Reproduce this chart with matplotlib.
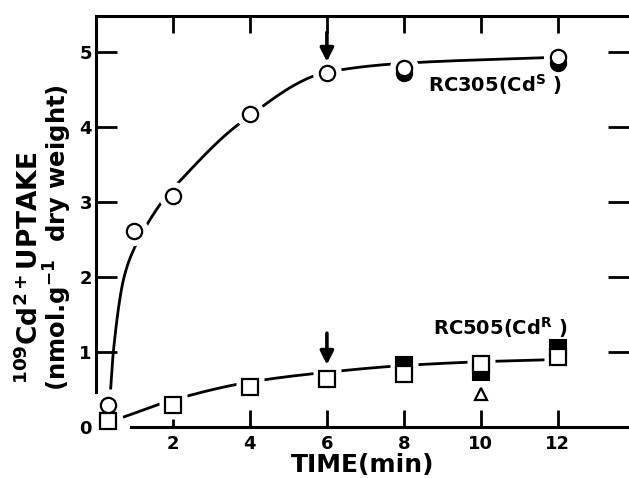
import matplotlib
matplotlib.use("Agg")
import matplotlib.pyplot as plt
import numpy as np

plt.rcParams['font.family'] = ['DejaVu Sans']
plt.rcParams['font.weight'] = 'bold'
plt.rcParams['mathtext.fontset'] = 'dejavusans'
plt.rcParams['mathtext.default'] = 'bf'

# RC305 (CdS) - open circles, filled circles
cds_t = [0.3, 1, 2, 4, 6, 8, 12]
cds_open = [0.30, 2.62, 3.08, 4.18, 4.72, 4.79, 4.93]
cds_fill_t = [8, 12]
cds_fill = [4.72, 4.86]
# hand drawn curve through circles
cds_curve_t = [0.38, 0.45, 0.73, 1.01, 1.35, 1.74, 2.18, 3.74, 6, 8, 12]
cds_curve_y = [0.5, 1.0, 2.0, 2.4, 2.72, 3.02, 3.28, 4.05, 4.73, 4.85, 4.93]

# RC505 (CdR) - open squares, filled squares, triangle
cdr_t = [0.3, 2, 4, 6, 8, 10, 12]
cdr_open = [0.08, 0.29, 0.54, 0.64, 0.71, 0.84, 0.93]
cdr_fill_t = [8, 10, 12]
cdr_fill = [0.83, 0.74, 1.06]
tri_t = [10]
tri_y = [0.44]
cdr_curve_t = [0.7, 2, 4, 6, 8, 10, 12]
cdr_curve_y = [0.13, 0.36, 0.6, 0.73, 0.82, 0.87, 0.9]

arrow_t = 6


def pchip(x, y, xs):
    x = np.asarray(x, float)
    y = np.asarray(y, float)
    h = np.diff(x)
    d = np.diff(y) / h
    m = np.zeros_like(y)
    for k in range(1, len(x) - 1):
        if d[k - 1] * d[k] > 0:
            w1 = 2 * h[k] + h[k - 1]
            w2 = h[k] + 2 * h[k - 1]
            m[k] = (w1 + w2) / (w1 / d[k - 1] + w2 / d[k])
    m[0] = d[0]
    m[-1] = d[-1]
    i = np.clip(np.searchsorted(x, xs) - 1, 0, len(h) - 1)
    t = (xs - x[i]) / h[i]
    h00 = 2 * t**3 - 3 * t**2 + 1
    h10 = t**3 - 2 * t**2 + t
    h01 = -2 * t**3 + 3 * t**2
    h11 = t**3 - t**2
    return h00 * y[i] + h10 * h[i] * m[i] + h01 * y[i + 1] + h11 * h[i] * m[i + 1]


fig = plt.figure(figsize=(6.29, 4.78), dpi=100)
ax = fig.add_axes([96 / 629, 51 / 478, 533 / 629, 411 / 478])
ax.set_xlim(0, 13.85)
ax.set_ylim(0, 5.48)

lw = 2.0
for ct, cy in [(cds_curve_t, cds_curve_y), (cdr_curve_t, cdr_curve_y)]:
    xs = np.linspace(ct[0], ct[-1], 400)
    ax.plot(xs, pchip(ct, cy, xs), color='black', lw=lw, zorder=1,
            solid_capstyle='butt')

ms = 11
# white halos to make gaps in the curves
ax.plot(cds_t, cds_open, 'o', ms=ms * 1.9, mfc='white', mec='none', zorder=2, clip_on=False)
ax.plot(cdr_t, cdr_open, 's', ms=ms * 1.8, mfc='white', mec='none', zorder=2, clip_on=False)
ax.plot(cdr_fill_t, cdr_fill, 's', ms=ms * 1.6, mfc='white', mec='none', zorder=2, clip_on=False)

ax.plot(cds_fill_t, cds_fill, 'o', ms=ms, mfc='black', mec='black', mew=1.5, zorder=3, clip_on=False)
ax.plot(cds_t, cds_open, 'o', ms=ms, mfc='white', mec='black', mew=1.6, zorder=4, clip_on=False)
ax.plot(cdr_fill_t, cdr_fill, 's', ms=ms, mfc='black', mec='black', mew=1.5, zorder=3, clip_on=False)
ax.plot(cdr_t, cdr_open, 's', ms=ms, mfc='white', mec='black', mew=1.6, zorder=4, clip_on=False)
ax.plot(tri_t, tri_y, '^', ms=9, mfc='white', mec='black', mew=1.6, zorder=4, clip_on=False)

for tip, top in [(4.87, 5.26), (0.83, 1.25)]:
    ax.annotate('', xy=(arrow_t, tip), xytext=(arrow_t, top),
                arrowprops=dict(arrowstyle='-|>,head_width=0.4,head_length=0.8',
                                color='black', lw=2.6, shrinkA=0, shrinkB=0))

ax.text(8.62, 4.56, 'RC305(Cd$^{S}$ )', fontsize=14, fontweight='bold', va='center')
ax.text(8.75, 1.32, 'RC505(Cd$^{R}$ )', fontsize=14, fontweight='bold', va='center')

for s in ax.spines.values():
    s.set_linewidth(2.2)
ax.spines['right'].set_visible(False)
ax.spines['left'].set_bounds(0.47, 5.48)
ax.spines['bottom'].set_bounds(0.9, 13.85)

ax.set_xticks([2, 4, 6, 8, 10, 12])
ax.set_yticks([0, 1, 2, 3, 4, 5])
ax.tick_params(axis='both', direction='in', width=2, labelsize=13)
ax.tick_params(axis='x', length=12, top=True, pad=6)
ax.tick_params(axis='y', length=15, right=True, pad=3)
ax.yaxis.get_major_ticks()[0].tick1line.set_visible(False)
ax.yaxis.get_major_ticks()[0].tick2line.set_visible(False)
for lab in ax.get_xticklabels() + ax.get_yticklabels():
    lab.set_fontweight('bold')

ax.set_xlabel('TIME(min)', fontsize=18, fontweight='bold', labelpad=0)
fig.text(30 / 629, 1 - 268 / 478, '$^{109}$Cd$^{2+}$UPTAKE', rotation=90,
         fontsize=19, fontweight='bold', ha='center', va='center')
fig.text(58 / 629, 1 - 238 / 478, '(nmol.g$^{-1}$  dry weight)', rotation=90,
         fontsize=17.5, fontweight='bold', ha='center', va='center')

fig.savefig('out.png', dpi=100)
